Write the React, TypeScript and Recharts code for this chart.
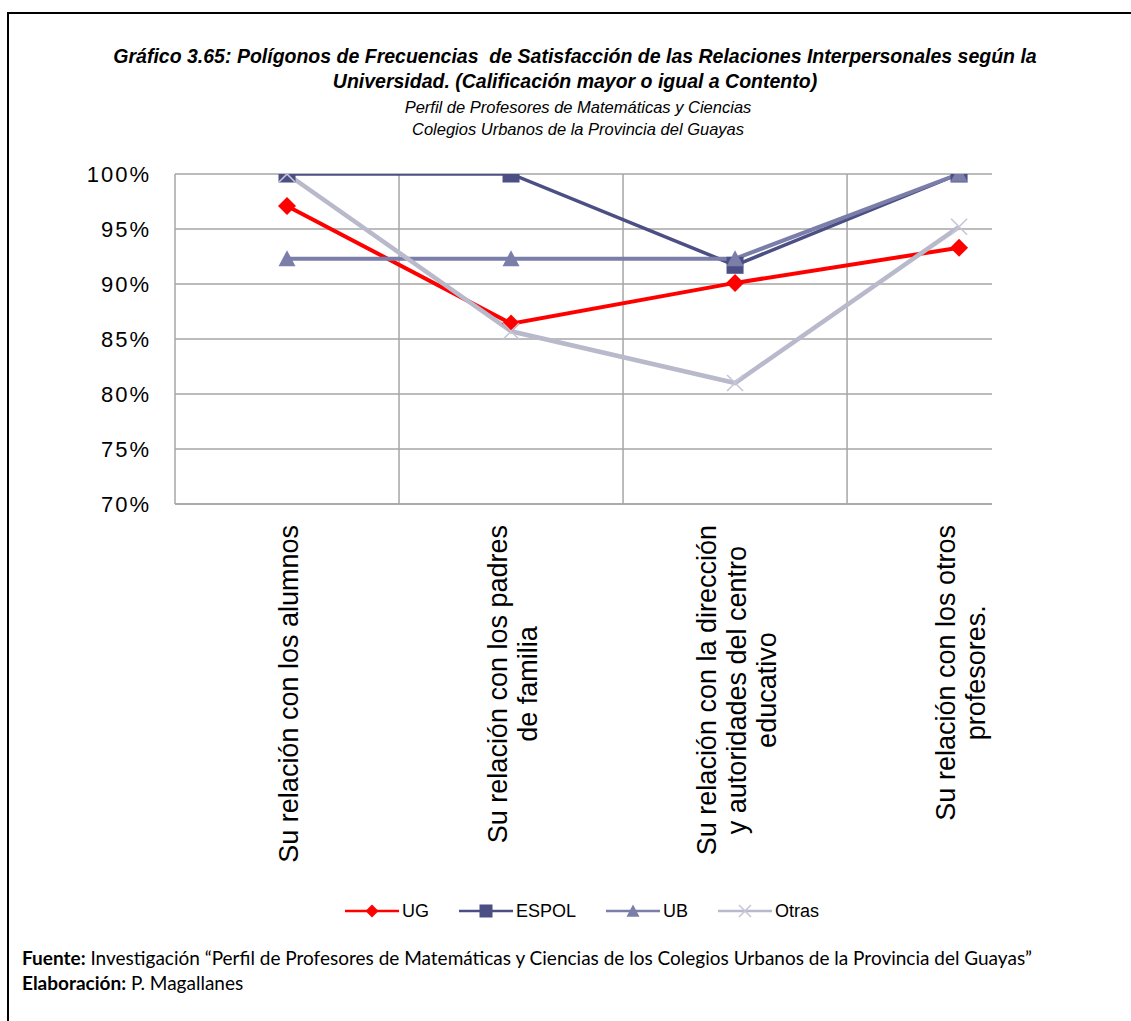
import { LineChart, Line, XAxis, YAxis, CartesianGrid, Legend } from 'recharts';

const categories = [
  'Su relación con los alumnos',
  'Su relación con los padres\nde familia',
  'Su relación con la dirección\ny autoridades del centro\neducativo',
  'Su relación con los otros\nprofesores.',
];

const ugValues = [97.1, 86.4, 90.1, 93.3];
const espolValues = [100, 100, 91.7, 100];
const ubValues = [92.3, 92.3, 92.3, 100];
const otrasValues = [100, 85.7, 81.0, 95.2];

const yTicks = [70, 75, 80, 85, 90, 95, 100];
const categoryTicks = [0, 1, 2, 3];
const separatorValues = [0.5, 1.5, 2.5];

const data = categories.map((name, i) => ({
  idx: i,
  name,
  UG: ugValues[i],
  ESPOL: espolValues[i],
  UB: ubValues[i],
  Otras: otrasValues[i],
}));

const series = [
  { key: 'UG', color: '#ff0000', shape: 'diamond', width: 4 },
  { key: 'ESPOL', color: '#4b4f84', shape: 'square', width: 3.5 },
  { key: 'UB', color: '#7a7ea9', shape: 'triangle', width: 4 },
  { key: 'Otras', color: '#b9b9cc', shape: 'cross', width: 4.5 },
];

const FONT = "'Liberation Sans', Arial, sans-serif";
const NARROW = "'Liberation Sans Narrow', 'Arial Narrow', 'Liberation Sans', sans-serif";

function Marker({ shape, cx, cy, color, r }: { shape: string; cx: number; cy: number; color: string; r: number }) {
  if (shape === 'diamond') {
    return <polygon points={`${cx},${cy - r} ${cx + r},${cy} ${cx},${cy + r} ${cx - r},${cy}`} fill={color} />;
  }
  if (shape === 'square') {
    return <rect x={cx - r} y={cy - r} width={r * 2} height={r * 2} fill={color} />;
  }
  if (shape === 'triangle') {
    return <polygon points={`${cx},${cy - r} ${cx + r},${cy + r * 0.9} ${cx - r},${cy + r * 0.9}`} fill={color} />;
  }
  return (
    <g stroke="#c6c6d6" strokeWidth={1.6}>
      <line x1={cx - r} y1={cy - r} x2={cx + r} y2={cy + r} />
      <line x1={cx - r} y1={cy + r} x2={cx + r} y2={cy - r} />
    </g>
  );
}

let measureCtx: CanvasRenderingContext2D | null = null;
function textWidth(text: string, font: string) {
  if (!measureCtx) measureCtx = document.createElement('canvas').getContext('2d');
  if (!measureCtx) return text.length * 14;
  measureCtx.font = font;
  return measureCtx.measureText(text).width;
}

const CategoryTick = (props: any) => {
  const { x, y, payload } = props;
  const label = categories[payload.value];
  if (!label) return null;
  const lines = label.split('\n');
  const fs = 27;
  const w = Math.max(...lines.map((l) => textWidth(l, `${fs}px 'Liberation Sans'`)));
  const n = lines.length;
  return (
    <g transform={`translate(${x},${y}) rotate(-90)`}>
      {lines.map((l, i) => (
        <text
          key={i}
          x={-w / 2}
          y={11 + (i - (n - 1) / 2) * 30}
          textAnchor="middle"
          fontSize={fs}
          fontFamily={FONT}
          fill="#000"
        >
          {l}
        </text>
      ))}
    </g>
  );
};

const renderLegend = (props: any) => {
  const payload = props.payload || [];
  return (
    <div style={{ display: 'flex', justifyContent: 'center', alignItems: 'center', gap: 30 }}>
      {series.map((s) => {
        const entry = payload.find((p: any) => p.dataKey === s.key);
        return (
          <div key={s.key} style={{ display: 'flex', alignItems: 'center' }}>
            <svg width={54} height={24}>
              <line x1={0} y1={12} x2={54} y2={12} stroke={s.color} strokeWidth={2.5} />
              <Marker shape={s.shape} cx={27} cy={12} color={s.color} r={s.shape === 'cross' ? 6 : 6.5} />
            </svg>
            <span style={{ fontFamily: FONT, fontSize: 18, color: '#000', marginLeft: 3, lineHeight: '24px' }}>
              {entry ? entry.value : s.key}
            </span>
          </div>
        );
      })}
    </div>
  );
};

export default function App() {
  return (
    <div style={{ position: 'absolute', left: 0, top: 0, width: 1131, height: 1021, overflow: 'hidden', background: '#fff' }}>
      <div
        style={{
          position: 'absolute',
          left: 7,
          top: 12,
          width: 1124,
          height: 1009,
          borderLeft: '2px solid #000',
          borderTop: '2px solid #000',
          boxSizing: 'border-box',
        }}
      />

      <div style={{ position: 'absolute', left: 0, top: 44, width: 1150, textAlign: 'center', fontFamily: NARROW, fontWeight: 'bold', fontStyle: 'italic', fontSize: 19.5, lineHeight: '25px', color: '#000' }}>
        <div>Gráfico 3.65: Polígonos de Frecuencias&nbsp; de Satisfacción de las Relaciones Interpersonales según la</div>
        <div>Universidad. (Calificación mayor o igual a Contento)</div>
      </div>
      <div style={{ position: 'absolute', left: 0, top: 96, width: 1156, textAlign: 'center', fontFamily: NARROW, fontStyle: 'italic', fontSize: 16.5, lineHeight: '22px', color: '#000' }}>
        <div>Perfil de Profesores de Matemáticas y Ciencias</div>
        <div>Colegios Urbanos de la Provincia del Guayas</div>
      </div>

      <div style={{ position: 'absolute', left: 0, top: 0, width: 1131, height: 930, overflow: 'hidden' }}>
        <LineChart width={1131} height={960} data={data} margin={{ top: 174, right: 139, bottom: 76, left: 0 }}>
          <CartesianGrid
            stroke="#a6a6a6"
            strokeWidth={1.5}
            verticalValues={separatorValues}
            syncWithTicks
          />
          <XAxis
            dataKey="idx"
            type="number"
            domain={[-0.5, 3.147]}
            ticks={categoryTicks}
            interval={0}
            height={380}
            tickSize={0}
            tickMargin={21}
            axisLine={{ stroke: '#a6a6a6', strokeWidth: 1.5 }}
            tickLine={false}
            tick={<CategoryTick />}
            allowDataOverflow
          />
          <YAxis
            type="number"
            domain={[70, 100]}
            ticks={yTicks}
            interval={0}
            width={175}
            tickSize={0}
            tickMargin={24}
            axisLine={{ stroke: '#a6a6a6', strokeWidth: 1.5 }}
            tickLine={false}
            tickFormatter={(v: number) => `${v}%`}
            tick={{ fill: '#000', fontSize: 22, fontFamily: FONT, letterSpacing: 2 }}
            allowDataOverflow
          />
          <Legend
            verticalAlign="middle"
            align="center"
            layout="horizontal"
            content={renderLegend}
            wrapperStyle={{ top: 899, left: 0, width: 1164, height: 24 }}
          />
          {series.map((s) => (
            <Line
              key={s.key}
              type="linear"
              dataKey={s.key}
              name={s.key}
              stroke={s.color}
              strokeWidth={s.width}
              isAnimationActive={false}
              activeDot={false}
              dot={(p: any) => (
                <Marker
                  key={`${s.key}-${p.index}`}
                  shape={s.shape}
                  cx={p.cx}
                  cy={p.cy}
                  color={s.color}
                  r={s.shape === 'cross' ? 8 : s.shape === 'diamond' ? 9 : 8.5}
                />
              )}
            />
          ))}
        </LineChart>
      </div>

      <div style={{ position: 'absolute', left: 22, top: 945, fontFamily: "Lato, 'Open Sans', sans-serif", fontSize: 19, lineHeight: '25px', color: '#000', whiteSpace: 'nowrap' }}>
        <div><b>Fuente:</b> Investigación “Perfil de Profesores de Matemáticas y Ciencias de los Colegios Urbanos de la Provincia del Guayas”</div>
        <div><b>Elaboración:</b> P. Magallanes</div>
      </div>
    </div>
  );
}
